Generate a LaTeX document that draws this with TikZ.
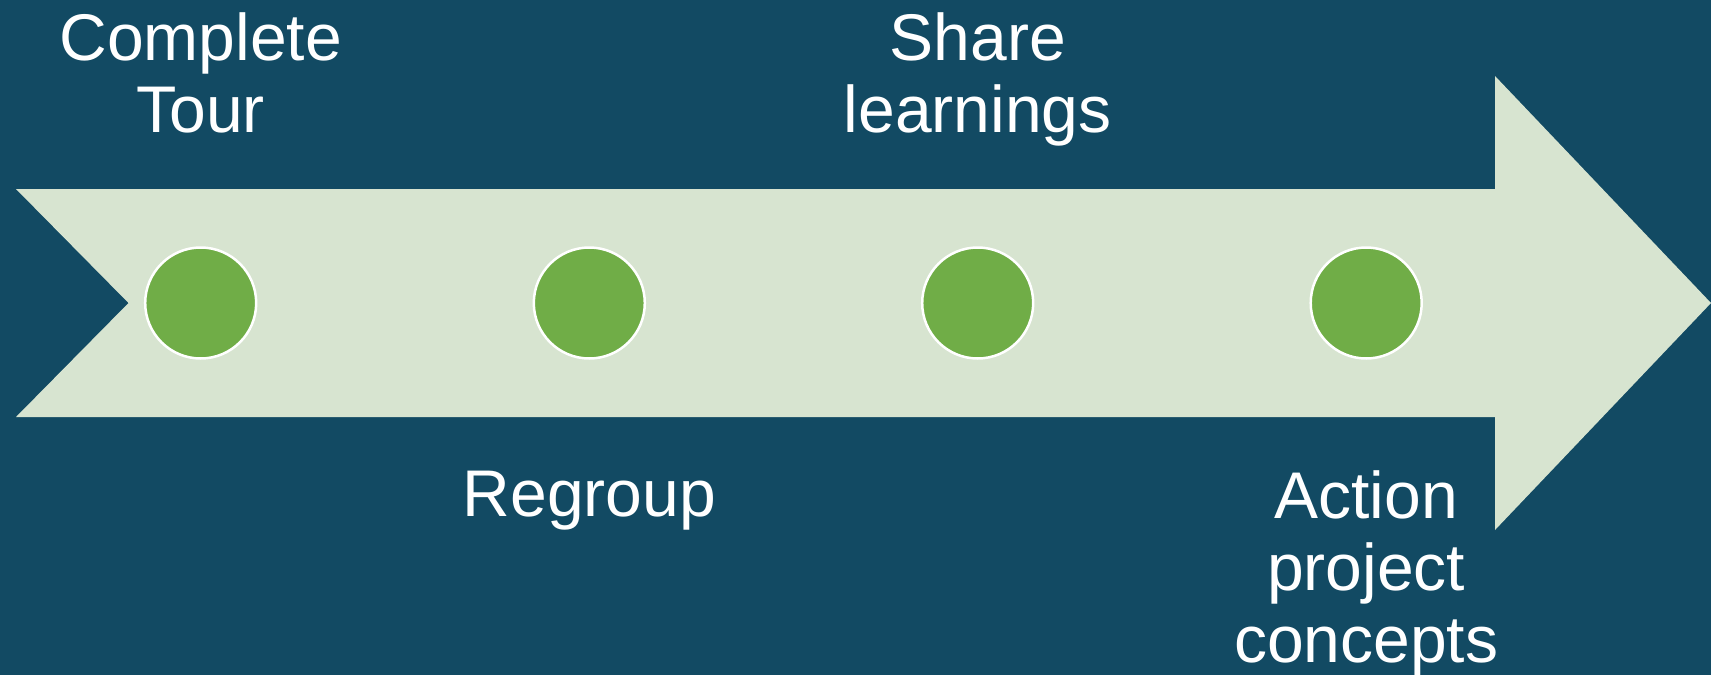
\documentclass[tikz,border=0pt]{standalone}
\usepackage{fontspec}
\setmainfont{Liberation Sans}
\definecolor{bgteal}{HTML}{124A63}
\definecolor{arrowfill}{HTML}{D7E4D0}
\definecolor{dotgreen}{HTML}{70AD47}
\begin{document}
\begin{tikzpicture}[x=1pt,y=-1pt,
  dot/.style={circle,fill=dotgreen,draw=white,line width=2.5pt,minimum size=111pt,inner sep=0pt},
  lbl/.style={text=white,align=center,font=\fontsize{66}{72}\selectfont,inner sep=0pt,anchor=base}]
\fill[bgteal] (0,0) rectangle (1711,675);
\useasboundingbox (0,0) rectangle (1711,675);
\fill[arrowfill] (16,189) -- (1495,189) -- (1495,76) -- (1711,303) -- (1495,530) -- (1495,417) -- (16,417) -- (128.5,303) -- cycle;
\node[dot] (d1) at (200.7,303) {};
\node[dot] (d2) at (589.3,303) {};
\node[dot] (d3) at (977.7,303) {};
\node[dot] (d4) at (1366.2,303) {};
\node[lbl] (t1) at (200.7,132) {Complete\\Tour};
\node[lbl] (t2) at (977.7,132) {Share\\learnings};
\node[lbl] (t3) at (589.3,516) {Regroup};
\node[lbl] (t4) at (1366.2,662) {Action\\project\\concepts};
\end{tikzpicture}
\end{document}
